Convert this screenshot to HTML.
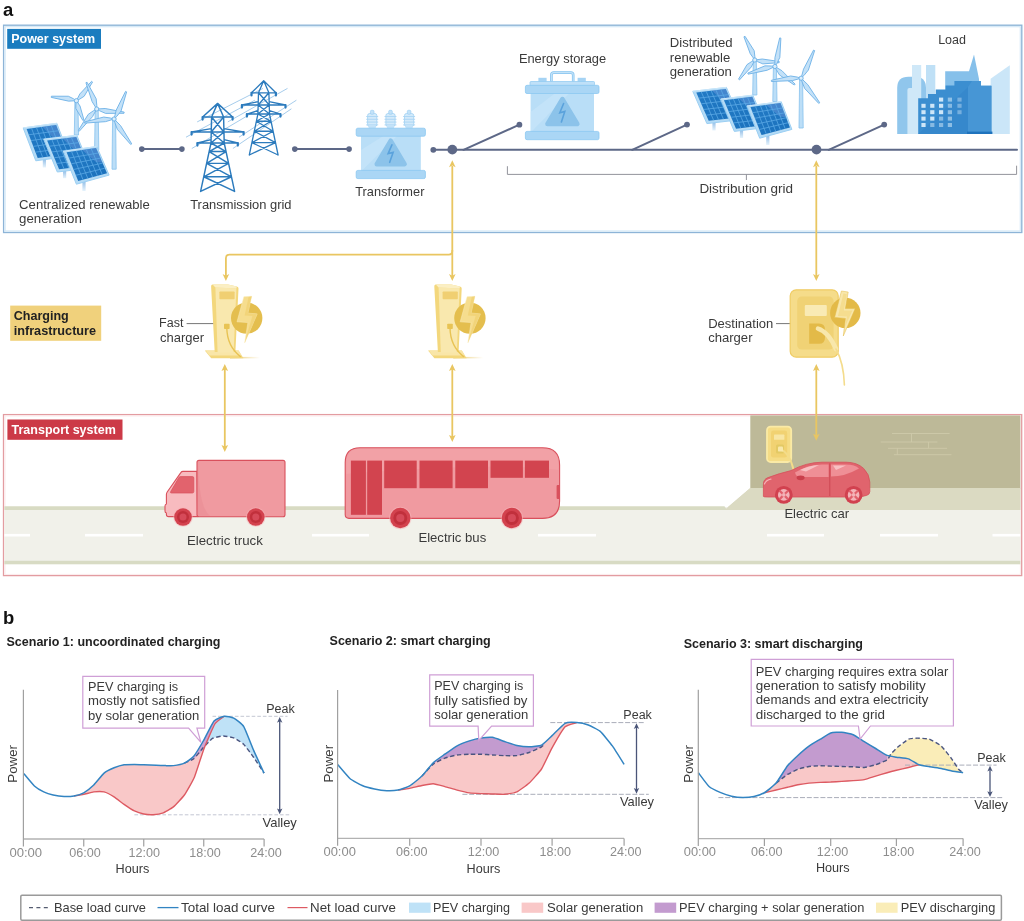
<!DOCTYPE html>
<html lang="en"><head><meta charset="utf-8"><title>Power, charging and transport systems</title>
<style>
html,body{margin:0;padding:0;background:#fff;}
body{width:1024px;height:921px;overflow:hidden;font-family:"Liberation Sans", sans-serif;}
svg{display:block;font-family:"Liberation Sans", sans-serif;will-change:transform;}
</style></head><body>
<svg width="1024" height="921" viewBox="0 0 1024 921">
<rect width="1024" height="921" fill="#ffffff"/>
<defs><linearGradient id="gpanel" x1="0" y1="0" x2="1" y2="1"><stop offset="0" stop-color="#237bc6"/><stop offset="1" stop-color="#1a70bb"/></linearGradient><linearGradient id="gpole" x1="0" y1="0" x2="0" y2="1"><stop offset="0" stop-color="#8ab8e4"/><stop offset="1" stop-color="#e6f3fc"/></linearGradient><linearGradient id="gshadow" x1="0" y1="0" x2="1" y2="0"><stop offset="0" stop-color="#e9c661"/><stop offset="1" stop-color="#e9c661" stop-opacity="0"/></linearGradient></defs>
<text x="2.90" y="15.7" font-size="18.41" font-weight="bold" fill="#111" >a</text>
<rect x="3.6" y="25.2" width="1018.2" height="207.3" fill="#fff" stroke="#8db4d7" stroke-width="1.35"/>
<rect x="5.1" y="26.7" width="1015.2" height="204.3" fill="none" stroke="#d3e8f7" stroke-width="1.2"/>
<rect x="7.2" y="28.9" width="93.8" height="19.9" fill="#1a7cbf"/>
<text x="11.17" y="42.7" font-size="12.50" font-weight="bold" fill="#fff" >Power system</text>
<rect x="3.5" y="414.6" width="1018.2" height="161" fill="#fff" stroke="#e39ca1" stroke-width="1.3"/>
<rect x="5" y="416" width="1015.4" height="158.4" fill="none" stroke="#fbeaeb" stroke-width="1"/>
<rect x="750.3" y="415.4" width="270" height="73.2" fill="#bdb998"/>
<polygon points="750.3,488 1020.3,488 1020.3,510 724.5,510" fill="#dbdac2"/>
<rect x="4.4" y="507" width="1015.9" height="57" fill="#f1f1ea"/>
<polygon points="4.4,506.3 724.5,506.3 727,509.9 4.4,509.9" fill="#d8dbc3"/>
<rect x="4.4" y="560.8" width="1015.9" height="3.5" fill="#d8dbc4"/>
<polygon points="750.3,488 1020.3,488 1020.3,510 724.5,510" fill="#dbdac2"/>
<rect x="4.4" y="533.9" width="25.6" height="2.6" fill="#ffffff"/>
<rect x="85" y="533.9" width="58" height="2.6" fill="#ffffff"/>
<rect x="312" y="533.9" width="57" height="2.6" fill="#ffffff"/>
<rect x="538" y="533.9" width="58" height="2.6" fill="#ffffff"/>
<rect x="767" y="533.9" width="57" height="2.6" fill="#ffffff"/>
<rect x="880" y="533.9" width="58" height="2.6" fill="#ffffff"/>
<rect x="992.5" y="533.9" width="27.799999999999955" height="2.6" fill="#ffffff"/>
<line x1="892" y1="433.5" x2="949.6" y2="433.5" stroke="#cecaa9" stroke-width="0.9"/>
<line x1="880.7" y1="442" x2="937.4" y2="442" stroke="#cecaa9" stroke-width="0.9"/>
<line x1="888" y1="448.3" x2="947.1" y2="448.3" stroke="#cecaa9" stroke-width="0.9"/>
<line x1="893.9" y1="454.7" x2="951.5" y2="454.7" stroke="#cecaa9" stroke-width="0.9"/>
<line x1="911.5" y1="433.5" x2="911.5" y2="442" stroke="#cecaa9" stroke-width="0.9"/>
<line x1="928.6" y1="442" x2="928.6" y2="448.3" stroke="#cecaa9" stroke-width="0.9"/>
<line x1="897.3" y1="448.3" x2="897.3" y2="454.7" stroke="#cecaa9" stroke-width="0.9"/>
<rect x="7.4" y="419.5" width="115.1" height="20.3" fill="#cc3a47"/>
<text x="11.56" y="433.7" font-size="12.50" font-weight="bold" fill="#fff" >Transport system</text>
<rect x="10.2" y="305.6" width="91" height="35.2" fill="#f0d17c"/>
<text x="13.70" y="320.4" font-size="12.55" font-weight="bold" fill="#222" >Charging</text>
<text x="13.70" y="335.4" font-size="12.68" font-weight="bold" fill="#222" >infrastructure</text>
<line x1="141.8" y1="149.1" x2="181.9" y2="149.1" stroke="#5d6887" stroke-width="2.0" stroke-linecap="round"/>
<circle cx="141.8" cy="149.1" r="2.8" fill="#5d6887"/>
<circle cx="181.9" cy="149.1" r="2.8" fill="#5d6887"/>
<line x1="294.8" y1="149.1" x2="349.1" y2="149.1" stroke="#5d6887" stroke-width="2.0" stroke-linecap="round"/>
<circle cx="294.8" cy="149.1" r="2.8" fill="#5d6887"/>
<circle cx="349.1" cy="149.1" r="2.8" fill="#5d6887"/>
<line x1="433.3" y1="149.8" x2="1017" y2="149.8" stroke="#5d6887" stroke-width="2.0" stroke-linecap="round"/>
<circle cx="433.3" cy="149.8" r="2.9" fill="#5d6887"/>
<circle cx="452.3" cy="149.6" r="4.9" fill="#5d6887"/>
<circle cx="816.5" cy="149.6" r="4.9" fill="#5d6887"/>
<line x1="463.5" y1="149.8" x2="519.4" y2="124.7" stroke="#5d6887" stroke-width="2.0" stroke-linecap="round"/>
<circle cx="519.4" cy="124.7" r="2.9" fill="#5d6887"/>
<line x1="632.2" y1="149.8" x2="687" y2="124.6" stroke="#5d6887" stroke-width="2.0" stroke-linecap="round"/>
<circle cx="687" cy="124.6" r="2.9" fill="#5d6887"/>
<line x1="828.7" y1="149.8" x2="884.2" y2="124.6" stroke="#5d6887" stroke-width="2.0" stroke-linecap="round"/>
<circle cx="884.2" cy="124.6" r="2.9" fill="#5d6887"/>
<path d="M507.4,166.2 V174.4 H1016.6 V165.7 M746.4,174.4 V180" fill="none" stroke="#8d8e96" stroke-width="0.95"/>
<path d="M452.3,166 V251 Q452.3,254.6 448.7,254.6 H229.5 Q225.9,254.6 225.9,258.2 V276" fill="none" stroke="#e9c661" stroke-width="1.8"/>
<path d="M452.3,250 V276" fill="none" stroke="#e9c661" stroke-width="1.8"/>
<path d="M449.0,167.2 L452.3,165.6 L455.6,167.2 L452.3,160.2 Z" fill="#e9c661"/>
<path d="M222.6,274.1 L225.9,275.7 L229.20000000000002,274.1 L225.9,281.1 Z" fill="#e9c661"/>
<path d="M449.0,274.1 L452.3,275.7 L455.6,274.1 L452.3,281.1 Z" fill="#e9c661"/>
<path d="M816.3,166 V276" fill="none" stroke="#e9c661" stroke-width="1.8"/>
<path d="M813.0,167.2 L816.3,165.6 L819.5999999999999,167.2 L816.3,160.2 Z" fill="#e9c661"/>
<path d="M813.0,274.1 L816.3,275.7 L819.5999999999999,274.1 L816.3,281.1 Z" fill="#e9c661"/>
<path d="M224.8,369 V447.2" fill="none" stroke="#e9c661" stroke-width="1.8"/>
<path d="M221.5,371.0 L224.8,369.40000000000003 L228.10000000000002,371.0 L224.8,364.0 Z" fill="#e9c661"/>
<path d="M221.5,445.0 L224.8,446.59999999999997 L228.10000000000002,445.0 L224.8,452.0 Z" fill="#e9c661"/>
<path d="M452.3,369 V437.2" fill="none" stroke="#e9c661" stroke-width="1.8"/>
<path d="M449.0,371.0 L452.3,369.40000000000003 L455.6,371.0 L452.3,364.0 Z" fill="#e9c661"/>
<path d="M449.0,435.0 L452.3,436.59999999999997 L455.6,435.0 L452.3,442.0 Z" fill="#e9c661"/>
<path d="M816.3,369 V436" fill="none" stroke="#e9c661" stroke-width="1.8"/>
<path d="M813.0,371.0 L816.3,369.40000000000003 L819.5999999999999,371.0 L816.3,364.0 Z" fill="#e9c661"/>
<path d="M813.0,433.8 L816.3,435.4 L819.5999999999999,433.8 L816.3,440.8 Z" fill="#e9c661"/>
<text x="19.10" y="208.8" font-size="13.15" font-weight="normal" fill="#3a3a3a" >Centralized renewable</text>
<text x="19.10" y="223.1" font-size="13.27" font-weight="normal" fill="#3a3a3a" >generation</text>
<text x="190.20" y="208.5" font-size="12.92" font-weight="normal" fill="#3a3a3a" >Transmission grid</text>
<text x="355.20" y="195.7" font-size="12.81" font-weight="normal" fill="#3a3a3a" >Transformer</text>
<text x="518.90" y="63.3" font-size="12.86" font-weight="normal" fill="#3a3a3a" >Energy storage</text>
<text x="669.80" y="47.2" font-size="13.14" font-weight="normal" fill="#3a3a3a" >Distributed</text>
<text x="669.80" y="61.5" font-size="13.11" font-weight="normal" fill="#3a3a3a" >renewable</text>
<text x="669.80" y="75.7" font-size="13.14" font-weight="normal" fill="#3a3a3a" >generation</text>
<text x="699.40" y="193.3" font-size="13.48" font-weight="normal" fill="#3a3a3a" >Distribution grid</text>
<text x="938.14" y="44.4" font-size="12.50" font-weight="normal" fill="#3a3a3a" >Load</text>
<text x="159.09" y="327.3" font-size="12.50" font-weight="normal" fill="#3a3a3a" >Fast</text>
<text x="160.00" y="342" font-size="12.98" font-weight="normal" fill="#3a3a3a" >charger</text>
<text x="708.20" y="327.5" font-size="13.03" font-weight="normal" fill="#3a3a3a" >Destination</text>
<text x="708.20" y="341.9" font-size="13.07" font-weight="normal" fill="#3a3a3a" >charger</text>
<text x="186.90" y="544.7" font-size="13.28" font-weight="normal" fill="#3a3a3a" >Electric truck</text>
<text x="418.40" y="542.4" font-size="13.13" font-weight="normal" fill="#3a3a3a" >Electric bus</text>
<text x="784.40" y="517.9" font-size="13.10" font-weight="normal" fill="#3a3a3a" >Electric car</text>
<line x1="186.6" y1="323.6" x2="214.7" y2="323.6" stroke="#777" stroke-width="1"/>
<line x1="776" y1="323.6" x2="792.5" y2="323.6" stroke="#777" stroke-width="1"/>
<polygon points="74.90,100.70 77.90,100.70 78.50,135.00 74.30,135.00" fill="#bcdef7" stroke="#86c1ee" stroke-width="0.8" stroke-linejoin="round"/>
<polygon points="76.40,100.70 73.60,98.82 68.35,96.24 51.40,96.21 51.23,97.39 68.63,101.14" fill="#c3e1f8" stroke="#6db1e6" stroke-width="0.9" stroke-linejoin="round"/>
<polygon points="76.40,100.70 79.39,99.32 84.18,96.23 92.54,82.04 91.61,81.28 79.84,93.96" fill="#c3e1f8" stroke="#6db1e6" stroke-width="0.9" stroke-linejoin="round"/>
<polygon points="76.40,100.70 75.90,103.53 75.81,108.42 82.84,120.44 83.97,120.03 80.03,106.00" fill="#c3e1f8" stroke="#6db1e6" stroke-width="0.9" stroke-linejoin="round"/>
<circle cx="76.4" cy="100.7" r="2.1" fill="#dceefb" stroke="#6db1e6" stroke-width="0.9"/>
<polygon points="95.20,109.00 98.20,109.00 98.80,150.00 94.60,150.00" fill="#bcdef7" stroke="#86c1ee" stroke-width="0.8" stroke-linejoin="round"/>
<polygon points="96.70,109.00 96.81,105.30 96.18,98.83 87.05,82.25 85.93,82.68 92.12,101.63" fill="#c3e1f8" stroke="#6db1e6" stroke-width="0.9" stroke-linejoin="round"/>
<polygon points="96.70,109.00 99.80,110.86 105.60,113.40 124.01,113.29 124.17,112.10 105.13,108.49" fill="#c3e1f8" stroke="#6db1e6" stroke-width="0.9" stroke-linejoin="round"/>
<polygon points="96.70,109.00 93.44,110.73 88.13,114.46 78.26,130.56 79.19,131.32 92.57,116.61" fill="#c3e1f8" stroke="#6db1e6" stroke-width="0.9" stroke-linejoin="round"/>
<circle cx="96.7" cy="109" r="2.1" fill="#dceefb" stroke="#6db1e6" stroke-width="0.9"/>
<polygon points="112.60,119.00 115.60,119.00 116.20,169.20 112.00,169.20" fill="#bcdef7" stroke="#86c1ee" stroke-width="0.8" stroke-linejoin="round"/>
<polygon points="114.10,119.00 116.85,116.29 121.08,110.96 126.64,91.88 125.54,91.40 116.20,110.14" fill="#c3e1f8" stroke="#6db1e6" stroke-width="0.9" stroke-linejoin="round"/>
<polygon points="114.10,119.00 114.98,122.83 117.31,129.34 130.72,144.50 131.71,143.82 120.58,125.63" fill="#c3e1f8" stroke="#6db1e6" stroke-width="0.9" stroke-linejoin="round"/>
<polygon points="114.10,119.00 110.40,118.00 103.72,117.05 84.61,121.91 84.76,123.10 105.47,121.67" fill="#c3e1f8" stroke="#6db1e6" stroke-width="0.9" stroke-linejoin="round"/>
<circle cx="114.1" cy="119" r="2.1" fill="#dceefb" stroke="#6db1e6" stroke-width="0.9"/>
<rect x="42.80" y="158.00" width="3.2" height="9.50" fill="url(#gpole)"/>
<polygon points="23.20,127.90 56.80,123.30 69.40,156.20 35.80,160.80" fill="#b4dbf6" stroke="#9bcff3" stroke-width="1.0" stroke-linejoin="round"/>
<polygon points="26.62,128.99 56.19,124.94 67.28,153.89 37.71,157.94" fill="url(#gpanel)"/>
<polygon points="42.25,126.85 56.19,124.94 62.55,141.56 56.38,140.67" fill="#8fa8e6" opacity="0.33"/>
<path d="M31.55,128.31L42.64,157.27M36.48,127.64L47.57,156.59M41.41,126.97L52.49,155.92M46.33,126.29L57.42,155.24M51.26,125.62L62.35,154.57M28.84,134.78L58.41,130.73M31.06,140.57L60.63,136.52M33.28,146.36L62.84,142.31M35.49,152.15L65.06,148.10" stroke="#5aa8e4" stroke-width="0.8" fill="none"/>
<path d="M23.20,127.90 L56.80,123.30" stroke="#d8eefb" stroke-width="0.8"/>
<rect x="63.00" y="170.00" width="3.2" height="8.20" fill="url(#gpole)"/>
<polygon points="43.70,139.30 76.80,135.30 90.40,168.00 57.30,172.00" fill="#b4dbf6" stroke="#9bcff3" stroke-width="1.0" stroke-linejoin="round"/>
<polygon points="47.13,140.43 76.25,136.91 88.22,165.69 59.09,169.21" fill="url(#gpanel)"/>
<polygon points="62.52,138.57 76.25,136.91 83.12,153.42 76.98,152.45" fill="#8fa8e6" opacity="0.33"/>
<path d="M51.98,139.84L63.95,168.62M56.83,139.26L68.80,168.03M61.69,138.67L73.66,167.45M66.54,138.08L78.51,166.86M71.40,137.50L83.37,166.27M49.52,146.19L78.65,142.67M51.91,151.94L81.04,148.42M54.31,157.70L83.43,154.18M56.70,163.45L85.83,159.93" stroke="#5aa8e4" stroke-width="0.8" fill="none"/>
<path d="M43.70,139.30 L76.80,135.30" stroke="#d8eefb" stroke-width="0.8"/>
<rect x="82.40" y="180.00" width="3.2" height="11.00" fill="url(#gpole)"/>
<polygon points="63.20,151.30 96.70,146.50 109.10,175.10 76.40,184.20" fill="#b4dbf6" stroke="#9bcff3" stroke-width="1.0" stroke-linejoin="round"/>
<polygon points="66.64,152.36 96.09,147.96 107.02,173.26 78.19,180.99" fill="url(#gpanel)"/>
<polygon points="82.20,150.03 96.09,147.96 102.36,162.48 96.28,162.19" fill="#8fa8e6" opacity="0.33"/>
<path d="M71.55,151.62L83.00,179.70M76.45,150.89L87.80,178.41M81.36,150.16L92.61,177.12M86.27,149.43L97.41,175.84M91.18,148.69L102.22,174.55M68.95,158.08L98.27,153.02M71.26,163.81L100.46,158.08M73.57,169.53L102.65,163.14M75.88,175.26L104.84,168.20" stroke="#5aa8e4" stroke-width="0.8" fill="none"/>
<path d="M63.20,151.30 L96.70,146.50" stroke="#d8eefb" stroke-width="0.8"/>
<polygon points="753.30,60.00 756.30,60.00 756.90,95.00 752.70,95.00" fill="#bcdef7" stroke="#86c1ee" stroke-width="0.8" stroke-linejoin="round"/>
<polygon points="754.80,60.00 754.87,56.61 754.19,50.74 745.04,36.32 743.94,36.80 750.22,53.63" fill="#c3e1f8" stroke="#6db1e6" stroke-width="0.9" stroke-linejoin="round"/>
<polygon points="754.80,60.00 757.61,61.68 762.83,63.87 779.14,62.70 779.24,61.50 762.25,59.01" fill="#c3e1f8" stroke="#6db1e6" stroke-width="0.9" stroke-linejoin="round"/>
<polygon points="754.80,60.00 751.79,61.45 746.96,64.66 738.55,79.16 739.49,79.91 751.34,66.88" fill="#c3e1f8" stroke="#6db1e6" stroke-width="0.9" stroke-linejoin="round"/>
<circle cx="754.8" cy="60" r="2.1" fill="#dceefb" stroke="#6db1e6" stroke-width="0.9"/>
<polygon points="773.40,66.50 776.40,66.50 777.00,101.50 772.80,101.50" fill="#bcdef7" stroke="#86c1ee" stroke-width="0.8" stroke-linejoin="round"/>
<polygon points="774.90,66.50 776.95,63.34 779.85,57.40 780.89,38.13 779.71,37.91 774.92,57.66" fill="#c3e1f8" stroke="#6db1e6" stroke-width="0.9" stroke-linejoin="round"/>
<polygon points="774.90,66.50 776.32,69.73 779.52,74.99 794.33,85.02 795.14,84.13 781.94,70.71" fill="#c3e1f8" stroke="#6db1e6" stroke-width="0.9" stroke-linejoin="round"/>
<polygon points="774.90,66.50 771.30,65.97 764.93,65.86 747.82,73.02 748.13,74.18 767.24,70.21" fill="#c3e1f8" stroke="#6db1e6" stroke-width="0.9" stroke-linejoin="round"/>
<circle cx="774.9" cy="66.5" r="2.1" fill="#dceefb" stroke="#6db1e6" stroke-width="0.9"/>
<polygon points="799.60,78.20 802.60,78.20 803.20,128.00 799.00,128.00" fill="#bcdef7" stroke="#86c1ee" stroke-width="0.8" stroke-linejoin="round"/>
<polygon points="801.10,78.20 803.96,75.46 808.39,70.06 814.64,50.59 813.55,50.09 803.52,69.16" fill="#c3e1f8" stroke="#6db1e6" stroke-width="0.9" stroke-linejoin="round"/>
<polygon points="801.10,78.20 802.12,82.03 804.71,88.53 818.74,103.41 819.70,102.70 807.85,84.69" fill="#c3e1f8" stroke="#6db1e6" stroke-width="0.9" stroke-linejoin="round"/>
<polygon points="801.10,78.20 797.40,77.10 790.70,75.97 771.33,80.30 771.45,81.50 792.34,80.63" fill="#c3e1f8" stroke="#6db1e6" stroke-width="0.9" stroke-linejoin="round"/>
<circle cx="801.1" cy="78.2" r="2.1" fill="#dceefb" stroke="#6db1e6" stroke-width="0.9"/>
<rect x="712.40" y="121.00" width="3.2" height="9.50" fill="url(#gpole)"/>
<polygon points="692.80,91.30 726.40,87.40 740.40,119.70 706.90,123.60" fill="#b4dbf6" stroke="#9bcff3" stroke-width="1.0" stroke-linejoin="round"/>
<polygon points="696.29,92.42 725.85,88.99 738.18,117.41 708.69,120.85" fill="url(#gpanel)"/>
<polygon points="711.91,90.61 725.85,88.99 732.93,105.30 726.69,104.33" fill="#8fa8e6" opacity="0.33"/>
<path d="M701.22,91.85L713.61,120.27M706.14,91.28L718.52,119.70M711.07,90.71L723.43,119.13M716.00,90.13L728.35,118.56M720.93,89.56L733.26,117.99M698.77,98.11L728.32,94.67M701.25,103.79L730.78,100.36M703.73,109.48L733.25,106.04M706.21,115.16L735.71,111.73" stroke="#5aa8e4" stroke-width="0.8" fill="none"/>
<path d="M692.80,91.30 L726.40,87.40" stroke="#d8eefb" stroke-width="0.8"/>
<rect x="739.90" y="129.00" width="3.2" height="9.00" fill="url(#gpole)"/>
<polygon points="720.60,99.10 752.80,95.20 766.50,127.50 734.30,131.40" fill="#b4dbf6" stroke="#9bcff3" stroke-width="1.0" stroke-linejoin="round"/>
<polygon points="723.95,100.22 752.29,96.79 764.35,125.21 736.01,128.65" fill="url(#gpanel)"/>
<polygon points="738.93,98.41 752.29,96.79 759.21,113.10 753.21,112.13" fill="#8fa8e6" opacity="0.33"/>
<path d="M728.68,99.65L740.73,128.07M733.40,99.08L745.45,127.50M738.12,98.51L750.18,126.93M742.84,97.93L754.90,126.36M747.57,97.36L759.62,125.79M726.36,105.91L754.70,102.47M728.78,111.59L757.11,108.16M731.19,117.28L759.52,113.84M733.60,122.96L761.93,119.53" stroke="#5aa8e4" stroke-width="0.8" fill="none"/>
<path d="M720.60,99.10 L752.80,95.20" stroke="#d8eefb" stroke-width="0.8"/>
<rect x="766.20" y="135.00" width="3.2" height="10.00" fill="url(#gpole)"/>
<polygon points="747.00,106.00 781.20,101.70 791.90,129.40 759.70,138.20" fill="#b4dbf6" stroke="#9bcff3" stroke-width="1.0" stroke-linejoin="round"/>
<polygon points="750.47,107.07 780.49,103.10 789.97,127.62 761.50,135.07" fill="url(#gpanel)"/>
<polygon points="766.33,104.97 780.49,103.10 785.93,117.17 779.91,116.86" fill="#8fa8e6" opacity="0.33"/>
<path d="M755.47,106.41L766.24,133.82M760.48,105.75L770.99,132.58M765.48,105.09L775.73,131.34M770.48,104.42L780.48,130.10M775.48,103.76L785.22,128.86M752.68,112.67L782.38,108.01M754.88,118.27L784.28,112.91M757.09,123.87L786.17,117.81M759.29,129.47L788.07,122.72" stroke="#5aa8e4" stroke-width="0.8" fill="none"/>
<path d="M747.00,106.00 L781.20,101.70" stroke="#d8eefb" stroke-width="0.8"/>
<path d="M227.8,121.9 L287.5,88.4 M239.0,137.2 L296.4,100.2 M232.9,148.5 L291.4,108.8 M197.2,121.9 L263.0,88.4 M186.0,137.2 L254.9,100.2 M191.8,148.5 L259.3,108.8 " stroke="#7fb6e2" stroke-width="0.7" fill="none"/>
<path d="M251.5,92.8 L263.7,80.7 L275.9,92.8 M258.5,92.8 L263.7,80.7 L268.9,92.8 M258.5,92.8 L257.9,114 L249.29999999999998,155 M268.9,92.8 L269.5,114 L278.09999999999997,155 M251.5,92.8 L275.9,92.8 M241.89999999999998,105 L285.5,105 M241.89999999999998,105 L258.2509433962264,101.6 M285.5,105 L269.1490566037736,101.6 M246.89999999999998,114 L280.5,114 M246.89999999999998,114 L257.9962264150943,110.6 M280.5,114 L269.40377358490565,110.6 M258.50,92.80 L269.25,105.00 M268.90,92.80 L258.15,105.00 M258.15,105.00 L269.50,114.00 M269.25,105.00 L257.90,114.00 M257.90,114.00 L271.02,121.25 M269.50,114.00 L256.38,121.25 M256.38,121.25 L271.02,121.25 M256.38,121.25 L273.12,131.24 M271.02,121.25 L254.28,131.24 M254.28,131.24 L273.12,131.24 M254.28,131.24 L275.50,142.62 M273.12,131.24 L251.90,142.62 M251.90,142.62 L275.50,142.62 M251.90,142.62 L278.10,155.00 M275.50,142.62 L249.30,155.00 " fill="none" stroke="#2c7bbd" stroke-width="1.3" stroke-linejoin="round" stroke-linecap="round"/>
<path d="M251.5,92.8 v2.6" stroke="#2c7bbd" stroke-width="2.2" stroke-linecap="round"/>
<path d="M275.9,92.8 v2.6" stroke="#2c7bbd" stroke-width="2.2" stroke-linecap="round"/>
<path d="M241.89999999999998,105 v2.6" stroke="#2c7bbd" stroke-width="2.2" stroke-linecap="round"/>
<path d="M285.5,105 v2.6" stroke="#2c7bbd" stroke-width="2.2" stroke-linecap="round"/>
<path d="M246.89999999999998,114 v2.6" stroke="#2c7bbd" stroke-width="2.2" stroke-linecap="round"/>
<path d="M280.5,114 v2.6" stroke="#2c7bbd" stroke-width="2.2" stroke-linecap="round"/>
<path d="M202.6,117 L217.6,103.4 L232.6,117 M211.6,117 L217.6,103.4 L223.6,117 M211.6,117 L211.0,143 L200.6,191.4 M223.6,117 L224.2,143 L234.6,191.4 M202.6,117 L232.6,117 M191.6,132 L243.6,132 M191.6,132 L211.3323076923077,128.6 M243.6,132 L223.8676923076923,128.6 M197.4,143 L237.79999999999998,143 M197.4,143 L211.07846153846154,139.6 M237.79999999999998,143 L224.12153846153845,139.6 M211.60,117.00 L223.95,132.00 M223.60,117.00 L211.25,132.00 M211.25,132.00 L224.20,143.00 M223.95,132.00 L211.00,143.00 M211.00,143.00 L226.04,151.56 M224.20,143.00 L209.16,151.56 M209.16,151.56 L226.04,151.56 M209.16,151.56 L228.57,163.35 M226.04,151.56 L206.63,163.35 M206.63,163.35 L228.57,163.35 M206.63,163.35 L231.46,176.78 M228.57,163.35 L203.74,176.78 M203.74,176.78 L231.46,176.78 M203.74,176.78 L234.60,191.40 M231.46,176.78 L200.60,191.40 " fill="none" stroke="#2c7bbd" stroke-width="1.45" stroke-linejoin="round" stroke-linecap="round"/>
<path d="M202.6,117 v2.6" stroke="#2c7bbd" stroke-width="2.2" stroke-linecap="round"/>
<path d="M232.6,117 v2.6" stroke="#2c7bbd" stroke-width="2.2" stroke-linecap="round"/>
<path d="M191.6,132 v2.6" stroke="#2c7bbd" stroke-width="2.2" stroke-linecap="round"/>
<path d="M243.6,132 v2.6" stroke="#2c7bbd" stroke-width="2.2" stroke-linecap="round"/>
<path d="M197.4,143 v2.6" stroke="#2c7bbd" stroke-width="2.2" stroke-linecap="round"/>
<path d="M237.79999999999998,143 v2.6" stroke="#2c7bbd" stroke-width="2.2" stroke-linecap="round"/>
<rect x="367.59999999999997" y="113.5" width="9.2" height="13" rx="2" fill="#d3eafa" stroke="#9fd0f3" stroke-width="0.8"/>
<rect x="370.4" y="110.3" width="3.6" height="4" rx="1.2" fill="#c3e2f8" stroke="#9fd0f3" stroke-width="0.7"/>
<path d="M366.59999999999997,116.5 h11.2 M366.59999999999997,119.3 h11.2 M366.59999999999997,122.1 h11.2 M366.59999999999997,124.9 h11.2" stroke="#a9d5f4" stroke-width="0.9" stroke-linecap="round"/>
<rect x="368.59999999999997" y="125.5" width="7.2" height="3" fill="#c3e2f8"/>
<rect x="385.9" y="113.5" width="9.2" height="13" rx="2" fill="#d3eafa" stroke="#9fd0f3" stroke-width="0.8"/>
<rect x="388.7" y="110.3" width="3.6" height="4" rx="1.2" fill="#c3e2f8" stroke="#9fd0f3" stroke-width="0.7"/>
<path d="M384.9,116.5 h11.2 M384.9,119.3 h11.2 M384.9,122.1 h11.2 M384.9,124.9 h11.2" stroke="#a9d5f4" stroke-width="0.9" stroke-linecap="round"/>
<rect x="386.9" y="125.5" width="7.2" height="3" fill="#c3e2f8"/>
<rect x="404.5" y="113.5" width="9.2" height="13" rx="2" fill="#d3eafa" stroke="#9fd0f3" stroke-width="0.8"/>
<rect x="407.3" y="110.3" width="3.6" height="4" rx="1.2" fill="#c3e2f8" stroke="#9fd0f3" stroke-width="0.7"/>
<path d="M403.5,116.5 h11.2 M403.5,119.3 h11.2 M403.5,122.1 h11.2 M403.5,124.9 h11.2" stroke="#a9d5f4" stroke-width="0.9" stroke-linecap="round"/>
<rect x="405.5" y="125.5" width="7.2" height="3" fill="#c3e2f8"/>
<rect x="361" y="135" width="59.8" height="36.5" fill="#b9def7"/>
<polygon points="361,171.5 361,150 385,135 398,135" fill="#c9e6fa" opacity="0.6"/>
<rect x="356.2" y="128.2" width="69.2" height="8" rx="1.6" fill="#aad6f5" stroke="#8cc8f1" stroke-width="0.8"/>
<rect x="356.2" y="170.4" width="69.2" height="8.2" rx="1.6" fill="#aad6f5" stroke="#8cc8f1" stroke-width="0.8"/>
<path d="M390.7,140.6 L404.7,164.2 L376.7,164.2 Z" fill="#8cc3ea" stroke="#8cc3ea" stroke-width="4.4" stroke-linejoin="round"/>
<path d="M391.9,144.84799999999998 L388.09999999999997,153.57999999999998 L393.09999999999997,152.39999999999998 L389.7,162.31199999999998" fill="none" stroke="#5aa2dc" stroke-width="1.6" stroke-linejoin="miter" stroke-linecap="round"/>
<path d="M551.4,81.5 V75 Q551.4,72.6 553.8,72.6 H570.8 Q573.2,72.6 573.2,75 V81.5" fill="none" stroke="#84c3f0" stroke-width="2.6"/>
<path d="M551.4,81.5 V75 Q551.4,72.6 553.8,72.6 H570.8 Q573.2,72.6 573.2,75 V81.5" fill="none" stroke="#c4e3f8" stroke-width="1.1"/>
<rect x="538.4" y="77.8" width="8.2" height="4" fill="#a5d3f4"/>
<rect x="577.6" y="77.8" width="8.2" height="4" fill="#a5d3f4"/>
<rect x="530" y="81.5" width="64.5" height="4.2" rx="1" fill="#bfe0f8" stroke="#8cc8f1" stroke-width="0.7"/>
<rect x="530.6" y="92.5" width="63.4" height="40" fill="#b9def7"/>
<polygon points="530.6,132.5 530.6,112 556,92.5 570,92.5" fill="#c9e6fa" opacity="0.6"/>
<rect x="525.4" y="85.3" width="73.6" height="8.2" rx="1.6" fill="#aad6f5" stroke="#8cc8f1" stroke-width="0.8"/>
<rect x="525.4" y="131.4" width="73.6" height="8.3" rx="1.6" fill="#aad6f5" stroke="#8cc8f1" stroke-width="0.8"/>
<path d="M562.4,99 L577.4,124 L547.4,124 Z" fill="#8cc3ea" stroke="#8cc3ea" stroke-width="4.4" stroke-linejoin="round"/>
<path d="M563.6,103.5 L559.8,112.75 L564.8,111.5 L561.4,122.0" fill="none" stroke="#5aa2dc" stroke-width="1.6" stroke-linejoin="miter" stroke-linecap="round"/>
<path d="M897.2,134 V88 Q897.2,76.8 908.4,76.8 H915 Q926,76.8 926,88 V134 Z" fill="#90c6ec"/>
<path d="M912,134 V65 H921.2 V134 Z" fill="#cfe8f8"/>
<path d="M907.4,134 V90 Q907.4,88 909.4,88 H912 V134 Z" fill="#cfe8f8"/>
<rect x="926" y="65" width="9.3" height="40" fill="#bfe0f6"/>
<polygon points="945.2,134 945.2,71.2 969,71.2 974,54.6 979,79 979,134" fill="#86c0ea"/>
<polygon points="990.6,78.8 1009.8,65.2 1009.8,134 990.6,134" fill="#cbe6f8"/>
<polygon points="918.2,134 918.2,98.2 928,98.2 928,94 935.8,94 935.8,89.6 945.6,89.6 945.6,85.4 954.4,85.4 954.4,81 980.8,81 980.8,85.8 991.4,85.8 991.4,134" fill="#3b8ed0"/>
<polygon points="918.2,134 968,87 968,134" fill="#3486cb" opacity="0.7"/>
<polygon points="968,87 968,134 991.4,134 991.4,85.8 980.8,85.8 980.8,81 972,81" fill="#4796d5"/>
<rect x="967" y="131.6" width="25.4" height="2.4" fill="#1f73bd"/>
<rect x="921.4" y="103.8" width="4.2" height="4" fill="#d6ebfa" opacity="0.95"/>
<rect x="921.4" y="110.2" width="4.2" height="4" fill="#d6ebfa" opacity="0.95"/>
<rect x="921.4" y="116.6" width="4.2" height="4" fill="#d6ebfa" opacity="0.95"/>
<rect x="921.4" y="123" width="4.2" height="4" fill="#d6ebfa" opacity="0.95"/>
<rect x="930.2" y="103.8" width="4.2" height="4" fill="#d6ebfa" opacity="0.95"/>
<rect x="930.2" y="110.2" width="4.2" height="4" fill="#d6ebfa" opacity="0.95"/>
<rect x="930.2" y="116.6" width="4.2" height="4" fill="#d6ebfa" opacity="0.95"/>
<rect x="930.2" y="123" width="4.2" height="4" fill="#d6ebfa" opacity="0.5"/>
<rect x="939" y="97.6" width="4.2" height="4" fill="#d6ebfa" opacity="0.95"/>
<rect x="939" y="103.8" width="4.2" height="4" fill="#d6ebfa" opacity="0.95"/>
<rect x="939" y="110.2" width="4.2" height="4" fill="#d6ebfa" opacity="0.95"/>
<rect x="939" y="116.6" width="4.2" height="4" fill="#d6ebfa" opacity="0.5"/>
<rect x="939" y="123" width="4.2" height="4" fill="#d6ebfa" opacity="0.5"/>
<rect x="947.8" y="97.6" width="4.2" height="4" fill="#d6ebfa" opacity="0.55"/>
<rect x="947.8" y="103.8" width="4.2" height="4" fill="#d6ebfa" opacity="0.5"/>
<rect x="947.8" y="110.2" width="4.2" height="4" fill="#d6ebfa" opacity="0.55"/>
<rect x="947.8" y="116.6" width="4.2" height="4" fill="#d6ebfa" opacity="0.55"/>
<rect x="947.8" y="123" width="4.2" height="4" fill="#d6ebfa" opacity="0.55"/>
<rect x="957.4" y="97.6" width="4.2" height="4" fill="#d6ebfa" opacity="0.4"/>
<rect x="957.4" y="103.8" width="4.2" height="4" fill="#d6ebfa" opacity="0.4"/>
<rect x="957.4" y="110.2" width="4.2" height="4" fill="#d6ebfa" opacity="0.4"/>
<g transform="translate(0,0)"><rect x="230" y="356.9" width="30" height="1.5" fill="url(#gshadow)"/><polygon points="204.8,350.6 238.6,350.6 243.4,358.2 211.2,358.2" fill="#f3d77c"/><polygon points="205.6,350.6 238.6,350.6 241.4,355.4 209.4,355.4" fill="#f9e6a8"/><path d="M212.6,284.6 Q211,284.6 211.1,286.4 L214.7,352 H235.4 L238.5,288.6 Q238.6,286.8 236.8,286.4 L228,284.6 Z" fill="#f3d77c"/><path d="M215.4,287.6 L236.4,288.6 L233.6,352.6 H217.6 Z" fill="#f9e8ae"/><path d="M212.6,284.6 L228,284.6 L236.8,286.4 L236.4,288.6 L215.4,287.6 Z" fill="#fbefc4"/><rect x="219.4" y="291.4" width="15.2" height="7.8" rx="0.8" fill="#f0cf72"/><circle cx="246.7" cy="318.1" r="15.7" fill="#e4be4e"/><polygon points="243.9,296.7 251.7,296.3 247.9,313.1 257.2,313.9 244.7,342.8 247.9,322.6 237,321.8" fill="#f6dd8e" stroke="#f9ebb8" stroke-width="0.5" stroke-linejoin="round"/><polygon points="248.6,297 251.7,296.3 247.9,313.1 257.2,313.9 244.7,342.8 252.4,316 244.6,315.4" fill="#efcf6e" opacity="0.65"/><path d="M226.8,328 C227,340 232,350 240.4,356.6" fill="none" stroke="#e8c354" stroke-width="1.4" stroke-linecap="round"/><rect x="224" y="323.8" width="5.6" height="5.2" rx="0.8" fill="#e8c354"/></g>
<g transform="translate(223.2,0)"><rect x="230" y="356.9" width="30" height="1.5" fill="url(#gshadow)"/><polygon points="204.8,350.6 238.6,350.6 243.4,358.2 211.2,358.2" fill="#f3d77c"/><polygon points="205.6,350.6 238.6,350.6 241.4,355.4 209.4,355.4" fill="#f9e6a8"/><path d="M212.6,284.6 Q211,284.6 211.1,286.4 L214.7,352 H235.4 L238.5,288.6 Q238.6,286.8 236.8,286.4 L228,284.6 Z" fill="#f3d77c"/><path d="M215.4,287.6 L236.4,288.6 L233.6,352.6 H217.6 Z" fill="#f9e8ae"/><path d="M212.6,284.6 L228,284.6 L236.8,286.4 L236.4,288.6 L215.4,287.6 Z" fill="#fbefc4"/><rect x="219.4" y="291.4" width="15.2" height="7.8" rx="0.8" fill="#f0cf72"/><circle cx="246.7" cy="318.1" r="15.7" fill="#e4be4e"/><polygon points="243.9,296.7 251.7,296.3 247.9,313.1 257.2,313.9 244.7,342.8 247.9,322.6 237,321.8" fill="#f6dd8e" stroke="#f9ebb8" stroke-width="0.5" stroke-linejoin="round"/><polygon points="248.6,297 251.7,296.3 247.9,313.1 257.2,313.9 244.7,342.8 252.4,316 244.6,315.4" fill="#efcf6e" opacity="0.65"/><path d="M226.8,328 C227,340 232,350 240.4,356.6" fill="none" stroke="#e8c354" stroke-width="1.4" stroke-linecap="round"/><rect x="224" y="323.8" width="5.6" height="5.2" rx="0.8" fill="#e8c354"/></g>
<rect x="790.2" y="289.8" width="48" height="67.4" rx="6" fill="#f5dc8a" stroke="#efcc64" stroke-width="1.2"/>
<rect x="797.2" y="296.6" width="36.4" height="53" rx="4.5" fill="#f0d275"/>
<rect x="804.8" y="305" width="22" height="11" rx="1" fill="#f9eab4"/>
<path d="M809.2,323.4 H819 Q825,323.4 825,329.4 V337.8 Q825,343.8 819,343.8 H809.2 Z" fill="#e3ba48"/>
<circle cx="845.3" cy="312.9" r="15.2" fill="#e3ba48"/>
<polygon points="841.4,291 848.2,292 845.4,308.6 855.2,308.6 843.3,336 845.4,318.4 834.6,317.4" fill="#f8e7ab" stroke="#e3ba48" stroke-width="0.5" stroke-linejoin="round"/>
<polygon points="843.4,293.6 846.8,294.2 843.8,310.4 852.4,310.4 845,327 847,316.6 838,316" fill="#f4dc8c" opacity="0.9"/>
<path d="M818,328.6 C826,331 832,340 836,349" fill="none" stroke="#f8e7ab" stroke-width="4.6" stroke-linecap="round"/>
<path d="M836,349 C841,358 844,372 844.4,385" fill="none" stroke="#f4dc8c" stroke-width="1.6" stroke-linecap="round"/>
<rect x="767" y="426.6" width="24.2" height="35.4" rx="3.6" fill="#f5dc86" stroke="#faeaa6" stroke-width="1.8"/>
<rect x="771" y="430.6" width="16.2" height="27" rx="2.4" fill="#f1d272"/>
<rect x="774" y="434.6" width="10.4" height="5.2" rx="0.6" fill="#f8e6a4"/>
<rect x="776" y="444.6" width="8" height="9" rx="1.6" fill="#e3c964"/>
<path d="M781,449.6 C787,452 791,459 793.6,470" fill="none" stroke="#f3dc8a" stroke-width="2" stroke-linecap="round"/>
<rect x="778" y="446.4" width="5" height="5.2" rx="1.2" fill="#f8e8ab"/>
<path d="M197,471.4 H183 Q181.6,471.4 180.8,472.6 L167.2,492 Q166.4,493.2 166.4,494.6 V504 Q165,504.4 165,506 V511 Q165,512.6 166.4,513 V514.4 Q166.4,516.6 168.6,516.6 H197.6 Z" fill="#f8bbbf" stroke="#d9505c" stroke-width="1.1" stroke-linejoin="round"/>
<path d="M180.2,476.6 H192.4 Q193.8,476.6 193.8,478 V491.6 Q193.8,493 192.4,493 H171.4 Q169.8,493 170.7,491.6 L178.8,477.6 Q179.4,476.6 180.2,476.6 Z" fill="#e2636d" stroke="#d9505c" stroke-width="0.7"/>
<rect x="197" y="460.4" width="88" height="56.4" rx="2" fill="#f09aa0" stroke="#d9505c" stroke-width="1.1"/>
<path d="M198,461.4 V515.8 H210 Q199,508 198,461.4 Z" fill="#ea8c93" opacity="0.55"/>
<circle cx="183" cy="517" r="9.8" fill="#f6b4b8" opacity="0.55"/>
<circle cx="183" cy="517" r="8.8" fill="#d3424e"/>
<circle cx="183" cy="517" r="5.98" fill="#c1303c"/>
<circle cx="183" cy="517" r="3.52" fill="#d64a59"/>
<circle cx="255.8" cy="517" r="9.8" fill="#f6b4b8" opacity="0.55"/>
<circle cx="255.8" cy="517" r="8.8" fill="#d3424e"/>
<circle cx="255.8" cy="517" r="5.98" fill="#c1303c"/>
<circle cx="255.8" cy="517" r="3.52" fill="#d64a59"/>
<path d="M360,447.8 H542.5 Q559.6,447.8 559.6,465 V501 Q559.6,518.4 542.5,518.4 H349 Q345.2,518.4 345.2,514.6 V462.6 Q345.2,447.8 360,447.8 Z" fill="#f09aa0" stroke="#d9505c" stroke-width="1.1"/>
<path d="M346.2,463 Q346.2,449 360,448.8 H542 Q558,448.8 558.6,463 V470 Q500,462 346.2,474 Z" fill="#f3a7ac" opacity="0.5"/>
<rect x="350.9" y="460.6" width="15.0" height="54.2" fill="#d2444f"/>
<rect x="367.2" y="460.6" width="14.8" height="54.2" fill="#d2444f"/>
<rect x="384.2" y="460.6" width="32.5" height="27.6" fill="#d2444f"/>
<rect x="419.5" y="460.6" width="33.1" height="27.6" fill="#d2444f"/>
<rect x="455.3" y="460.6" width="32.7" height="27.6" fill="#d2444f"/>
<rect x="490.5" y="460.6" width="32.4" height="17.2" fill="#d2444f"/>
<rect x="524.9" y="460.6" width="24.1" height="17.2" fill="#d2444f"/>
<rect x="556.6" y="485" width="3.4" height="14" rx="1" fill="#d9505c"/>
<circle cx="400.3" cy="518" r="11.2" fill="#f6b4b8" opacity="0.55"/>
<circle cx="400.3" cy="518" r="10.2" fill="#d3424e"/>
<circle cx="400.3" cy="518" r="6.94" fill="#c1303c"/>
<circle cx="400.3" cy="518" r="4.08" fill="#d64a59"/>
<circle cx="511.9" cy="518" r="11.2" fill="#f6b4b8" opacity="0.55"/>
<circle cx="511.9" cy="518" r="10.2" fill="#d3424e"/>
<circle cx="511.9" cy="518" r="6.94" fill="#c1303c"/>
<circle cx="511.9" cy="518" r="4.08" fill="#d64a59"/>
<path d="M763.4,496.4 V484 Q763.4,479.4 768,477.6 Q779,473.4 791,470.6 Q806,462.4 822,462.2 H846 Q857,462.2 863.6,468.4 Q869.6,474.4 869.8,482 V491.6 Q869.8,494.6 866.6,495.4 L860,497 H768 Q763.4,497 763.4,496.4 Z" fill="#e0646d" stroke="#d6505b" stroke-width="0.8" stroke-linejoin="round"/>
<path d="M795,472.4 Q808,464.6 822,464.4 H828.6 V477 H801 Q796,477 795,472.4 Z" fill="#ef8f96"/>
<path d="M831,464.4 H846 Q855,464.4 859,468.4 Q845,476.4 831,476.6 Z" fill="#ef8f96"/>
<path d="M800,470 Q809,465.4 819,465 L806,471.6 Z" fill="#f8c5c8" opacity="0.9"/>
<path d="M833,465.6 H846 L836,470 Z" fill="#f8c5c8" opacity="0.9"/>
<path d="M829.8,463.2 V496" stroke="#c9404c" stroke-width="0.8" fill="none"/>
<ellipse cx="800.6" cy="477.8" rx="4" ry="2.4" fill="#c93f4b"/>
<path d="M764.4,484 Q766,480 771,479" stroke="#f5b5b9" stroke-width="1.2" fill="none" stroke-linecap="round"/>
<circle cx="783.8" cy="494.9" r="8.9" fill="#d1414f"/>
<circle cx="783.8" cy="494.9" r="5.87" fill="#f4b3b8"/>
<path d="M779.35,490.45 L788.25,499.35 M788.25,490.45 L779.35,499.35" stroke="#e0606b" stroke-width="2.2"/>
<circle cx="783.8" cy="494.9" r="1.78" fill="#f4b3b8"/>
<circle cx="853.6" cy="494.9" r="8.9" fill="#d1414f"/>
<circle cx="853.6" cy="494.9" r="5.87" fill="#f4b3b8"/>
<path d="M849.15,490.45 L858.05,499.35 M858.05,490.45 L849.15,499.35" stroke="#e0606b" stroke-width="2.2"/>
<circle cx="853.6" cy="494.9" r="1.78" fill="#f4b3b8"/>
<text x="3.00" y="624.3" font-size="18.44" font-weight="bold" fill="#111" >b</text>
<text x="6.53" y="646.3" font-size="12.50" font-weight="bold" fill="#222" >Scenario 1: uncoordinated charging</text>
<text x="329.56" y="644.9" font-size="12.50" font-weight="bold" fill="#222" >Scenario 2: smart charging</text>
<text x="683.73" y="648.2" font-size="12.50" font-weight="bold" fill="#222" >Scenario 3: smart discharging</text>
<path d="M74.06,795.94 C74.81,795.70 82.24,793.65 83.75,792.81 C85.26,791.97 92.19,786.51 93.75,785.00 C95.31,783.49 102.50,774.45 104.06,773.12 C105.62,771.80 112.52,768.46 114.06,767.81 C115.60,767.16 122.50,764.95 124.06,764.69 C125.62,764.42 132.86,764.38 134.38,764.38 C135.89,764.38 142.07,764.62 143.75,764.69 C145.43,764.76 154.57,765.24 156.25,765.31 C157.93,765.38 164.30,765.60 165.62,765.62 C166.95,765.65 172.00,765.82 173.44,765.62 C174.88,765.43 182.81,763.85 184.38,763.12 C185.94,762.40 192.31,757.93 193.75,756.25 C195.19,754.57 201.56,743.97 203.12,741.25 C204.69,738.53 212.43,722.86 214.06,720.94 C215.70,719.01 223.58,716.61 224.38,716.25 L224.38,716.25 C223.65,716.83 216.56,721.27 215.00,723.75 C213.44,726.23 205.65,744.33 204.06,748.44 C202.48,752.55 195.89,773.61 194.38,777.19 C192.86,780.77 185.99,792.72 184.38,795.00 C182.76,797.28 175.12,805.48 173.44,806.88 C171.75,808.27 164.06,812.52 162.50,813.12 C160.94,813.73 154.57,814.62 153.12,814.69 C151.68,814.76 145.19,814.35 143.75,814.06 C142.31,813.77 135.89,811.68 134.38,810.94 C132.86,810.19 125.62,805.46 124.06,804.38 C122.50,803.29 115.60,797.84 114.06,796.88 C112.52,795.91 105.62,792.26 104.06,791.88 C102.50,791.49 95.31,791.68 93.75,791.88 C92.19,792.07 85.26,794.06 83.75,794.38 C82.24,794.69 74.81,795.82 74.06,795.94 Z" fill="#f9c8c8"/>
<path d="M184.38,763.12 C185.10,762.60 192.31,757.93 193.75,756.25 C195.19,754.57 201.56,743.97 203.12,741.25 C204.69,738.53 212.43,722.86 214.06,720.94 C215.70,719.01 222.86,716.47 224.38,716.25 C225.89,716.03 232.26,717.33 233.75,718.12 C235.24,718.92 242.21,724.06 243.75,726.56 C245.29,729.06 252.19,747.04 253.75,750.62 C255.31,754.21 263.27,771.39 264.06,773.12 L264.06,773.12 C263.27,771.92 255.31,759.71 253.75,757.50 C252.19,755.29 245.24,745.87 243.75,744.38 C242.26,742.88 235.94,738.77 234.38,738.12 C232.81,737.48 225.12,735.91 223.44,735.94 C221.75,735.96 214.06,737.52 212.50,738.44 C210.94,739.35 204.57,746.25 203.12,747.81 C201.68,749.38 195.19,757.57 193.75,758.75 C192.31,759.93 185.10,762.79 184.38,763.12 Z" fill="#bfe2f7"/>
<path d="M184.38,763.12 C185.10,762.60 192.31,757.93 193.75,756.25 C195.19,754.57 201.56,743.97 203.12,741.25 C204.69,738.53 212.43,722.86 214.06,720.94 C215.70,719.01 223.58,716.61 224.38,716.25 L224.38,716.25 C223.65,716.83 216.56,721.27 215.00,723.75 C213.44,726.23 205.70,745.75 204.06,748.44 C202.43,751.13 195.26,757.62 193.75,758.75 C192.24,759.88 185.10,762.79 184.38,763.12 Z" fill="#cda3d3"/>
<path d="M212.5,716.3 H287.5 M134.4,814.8 H290.6" stroke="#c3c7d3" stroke-width="1" stroke-dasharray="3.6 2" fill="none"/>
<path d="M279.7,719.8 V811.3" stroke="#4a5578" stroke-width="1.3" fill="none"/>
<path d="M277.0,722.6999999999999 L279.7,721.3 L282.4,722.6999999999999 L279.7,716.9 Z" fill="#4a5578"/>
<path d="M277.0,808.4 L279.7,809.8 L282.4,808.4 L279.7,814.1999999999999 Z" fill="#4a5578"/>
<text x="266.19" y="712.5" font-size="12.50" font-weight="normal" fill="#3a3a3a" >Peak</text>
<text x="262.50" y="826.6" font-size="12.98" font-weight="normal" fill="#3a3a3a" >Valley</text>
<path d="M184.38,763.12 C185.10,762.79 192.31,759.93 193.75,758.75 C195.19,757.57 201.68,749.38 203.12,747.81 C204.57,746.25 210.94,739.35 212.50,738.44 C214.06,737.52 221.75,735.96 223.44,735.94 C225.12,735.91 232.81,737.48 234.38,738.12 C235.94,738.77 242.26,742.88 243.75,744.38 C245.24,745.87 252.19,755.29 253.75,757.50 C255.31,759.71 263.27,771.92 264.06,773.12" fill="none" stroke="#4a5580" stroke-width="1.4" stroke-dasharray="4.4 2.6"/>
<path d="M74.06,795.94 C74.81,795.82 82.24,794.69 83.75,794.38 C85.26,794.06 92.19,792.07 93.75,791.88 C95.31,791.68 102.50,791.49 104.06,791.88 C105.62,792.26 112.52,795.91 114.06,796.88 C115.60,797.84 122.50,803.29 124.06,804.38 C125.62,805.46 132.86,810.19 134.38,810.94 C135.89,811.68 142.31,813.77 143.75,814.06 C145.19,814.35 151.68,814.76 153.12,814.69 C154.57,814.62 160.94,813.73 162.50,813.12 C164.06,812.52 171.75,808.27 173.44,806.88 C175.12,805.48 182.76,797.28 184.38,795.00 C185.99,792.72 192.86,780.77 194.38,777.19 C195.89,773.61 202.48,752.55 204.06,748.44 C205.65,744.33 213.44,726.23 215.00,723.75 C216.56,721.27 223.65,716.83 224.38,716.25" fill="none" stroke="#dd5a62" stroke-width="1.4"/>
<path d="M23.44,773.12 C24.28,774.11 32.81,784.50 34.38,785.94 C35.94,787.38 42.31,791.18 43.75,791.88 C45.19,792.57 51.56,794.64 53.12,795.00 C54.69,795.36 62.45,796.49 64.06,796.56 C65.67,796.63 72.55,796.23 74.06,795.94 C75.58,795.65 82.24,793.65 83.75,792.81 C85.26,791.97 92.19,786.51 93.75,785.00 C95.31,783.49 102.50,774.45 104.06,773.12 C105.62,771.80 112.52,768.46 114.06,767.81 C115.60,767.16 122.50,764.95 124.06,764.69 C125.62,764.42 132.86,764.38 134.38,764.38 C135.89,764.38 142.07,764.62 143.75,764.69 C145.43,764.76 154.57,765.24 156.25,765.31 C157.93,765.38 164.30,765.60 165.62,765.62 C166.95,765.65 172.00,765.82 173.44,765.62 C174.88,765.43 182.81,763.85 184.38,763.12 C185.94,762.40 192.31,757.93 193.75,756.25 C195.19,754.57 201.56,743.97 203.12,741.25 C204.69,738.53 212.43,722.86 214.06,720.94 C215.70,719.01 222.86,716.47 224.38,716.25 C225.89,716.03 232.26,717.33 233.75,718.12 C235.24,718.92 242.21,724.06 243.75,726.56 C245.29,729.06 252.19,747.04 253.75,750.62 C255.31,754.21 263.27,771.39 264.06,773.12" fill="none" stroke="#3284c2" stroke-width="1.5"/>
<path d="M23.4,839.0 H264.1" fill="none" stroke="#b2b2b2" stroke-width="1.4"/>
<path d="M23.4,689.7 V846.4 M83.75,839.0 V846.4 M143.75,839.0 V846.4 M203.75,839.0 V846.4 M264.1,839.0 V846.4" fill="none" stroke="#a0a0a0" stroke-width="1.2"/>
<text x="9.40" y="857.0" font-size="13.09" font-weight="normal" fill="#8d8d8d" >00:00</text>
<text x="69.22" y="857.0" font-size="12.60" font-weight="normal" fill="#8d8d8d" >06:00</text>
<text x="128.42" y="857.0" font-size="12.60" font-weight="normal" fill="#8d8d8d" >12:00</text>
<text x="189.22" y="857.0" font-size="12.60" font-weight="normal" fill="#8d8d8d" >18:00</text>
<text x="250.32" y="857.0" font-size="12.60" font-weight="normal" fill="#8d8d8d" >24:00</text>
<text x="115.60" y="872.5" font-size="12.66" font-weight="normal" fill="#3a3a3a" >Hours</text>
<text transform="translate(17.3,763.8) rotate(-90)" font-size="13.3" fill="#3a3a3a" text-anchor="middle">Power</text>
<path d="M82.8,676.3 H204.7 V728.1 H196.9 L200.9,742.4 L188.6,728.1 H82.8 Z" fill="#ffffff" stroke="#cf9fd6" stroke-width="1.2" stroke-linejoin="miter"/>
<text x="88.10" y="690.6" font-size="12.65" font-weight="normal" fill="#3a3a3a" >PEV charging is</text>
<text x="88.10" y="705.3" font-size="13.16" font-weight="normal" fill="#3a3a3a" >mostly not satisfied</text>
<text x="88.10" y="720" font-size="13.09" font-weight="normal" fill="#3a3a3a" >by solar generation</text>
<path d="M398.06,790.10 C398.95,789.77 407.82,786.96 409.66,785.88 C411.50,784.80 420.16,777.82 421.97,776.03 C423.78,774.25 431.46,764.35 433.22,762.67 C434.98,761.00 442.98,755.53 444.82,754.23 C446.66,752.94 455.24,746.82 457.13,745.79 C459.02,744.77 467.60,741.47 469.44,740.87 C471.28,740.28 479.28,738.33 481.04,738.06 C482.80,737.79 490.48,737.09 492.29,737.36 C494.10,737.63 502.71,740.95 504.60,741.58 C506.49,742.20 515.01,745.04 516.91,745.44 C518.80,745.85 527.32,746.88 529.21,746.85 C531.11,746.82 539.76,745.96 541.52,745.09 C543.28,744.23 550.26,737.27 552.07,735.60 C553.88,733.92 563.18,724.29 565.08,723.29 C566.97,722.29 575.79,722.64 576.68,722.59 L576.68,722.59 C575.79,722.91 566.97,724.86 565.08,726.81 C563.18,728.75 553.88,744.66 552.07,747.90 C550.26,751.15 543.28,766.30 541.52,769.00 C539.76,771.71 531.11,781.31 529.21,783.07 C527.32,784.82 518.80,790.99 516.91,791.86 C515.01,792.72 506.49,794.16 504.60,794.32 C502.71,794.48 494.10,794.02 492.29,793.97 C490.48,793.91 482.80,793.70 481.04,793.61 C479.28,793.53 471.28,793.18 469.44,792.91 C467.60,792.64 459.02,790.59 457.13,790.10 C455.24,789.61 446.66,787.07 444.82,786.58 C442.98,786.10 434.98,783.85 433.22,783.77 C431.46,783.69 423.78,785.18 421.97,785.53 C420.16,785.88 411.50,787.99 409.66,788.34 C407.82,788.69 398.95,789.96 398.06,790.10 Z" fill="#f9c8c8"/>
<path d="M421.97,776.03 C422.83,775.01 431.46,764.35 433.22,762.67 C434.98,761.00 442.98,755.53 444.82,754.23 C446.66,752.94 455.24,746.82 457.13,745.79 C459.02,744.77 467.60,741.47 469.44,740.87 C471.28,740.28 479.28,738.33 481.04,738.06 C482.80,737.79 490.48,737.09 492.29,737.36 C494.10,737.63 502.71,740.95 504.60,741.58 C506.49,742.20 515.01,745.04 516.91,745.44 C518.80,745.85 527.32,746.88 529.21,746.85 C531.11,746.82 540.30,745.33 541.52,745.09 C542.74,744.85 544.76,743.79 545.04,743.68 L545.04,743.68 C544.76,743.93 542.74,746.17 541.52,746.85 C540.30,747.53 531.11,751.80 529.21,752.48 C527.32,753.15 518.80,755.40 516.91,755.64 C515.01,755.88 506.49,755.69 504.60,755.64 C502.71,755.59 494.10,755.04 492.29,754.94 C490.48,754.83 482.80,754.29 481.04,754.23 C479.28,754.18 471.28,754.18 469.44,754.23 C467.60,754.29 459.02,754.64 457.13,754.94 C455.24,755.23 446.66,757.40 444.82,758.10 C442.98,758.80 434.98,762.70 433.22,764.08 C431.46,765.46 422.83,775.11 421.97,776.03 Z" fill="#c39bcf"/>
<path d="M550.3,722.6 H645.2 M462.4,794.3 H648.8" stroke="#a9adb9" stroke-width="1" stroke-dasharray="5 1.8" fill="none"/>
<path d="M636.5,726.1 V790.8" stroke="#4a5578" stroke-width="1.3" fill="none"/>
<path d="M633.8,729.0 L636.5,727.6 L639.2,729.0 L636.5,723.2 Z" fill="#4a5578"/>
<path d="M633.8,787.9 L636.5,789.3 L639.2,787.9 L636.5,793.6999999999999 Z" fill="#4a5578"/>
<text x="623.37" y="719.1" font-size="12.50" font-weight="normal" fill="#3a3a3a" >Peak</text>
<text x="619.90" y="805.9" font-size="12.87" font-weight="normal" fill="#3a3a3a" >Valley</text>
<path d="M421.97,776.03 C422.83,775.11 431.46,765.46 433.22,764.08 C434.98,762.70 442.98,758.80 444.82,758.10 C446.66,757.40 455.24,755.23 457.13,754.94 C459.02,754.64 467.60,754.29 469.44,754.23 C471.28,754.18 479.28,754.18 481.04,754.23 C482.80,754.29 490.48,754.83 492.29,754.94 C494.10,755.04 502.71,755.59 504.60,755.64 C506.49,755.69 515.01,755.88 516.91,755.64 C518.80,755.40 527.32,753.15 529.21,752.48 C531.11,751.80 540.30,747.53 541.52,746.85 C542.74,746.17 544.76,743.93 545.04,743.68" fill="none" stroke="#4a5580" stroke-width="1.4" stroke-dasharray="4.4 2.6"/>
<path d="M398.06,790.10 C398.95,789.96 407.82,788.69 409.66,788.34 C411.50,787.99 420.16,785.88 421.97,785.53 C423.78,785.18 431.46,783.69 433.22,783.77 C434.98,783.85 442.98,786.10 444.82,786.58 C446.66,787.07 455.24,789.61 457.13,790.10 C459.02,790.59 467.60,792.64 469.44,792.91 C471.28,793.18 479.28,793.53 481.04,793.61 C482.80,793.70 490.48,793.91 492.29,793.97 C494.10,794.02 502.71,794.48 504.60,794.32 C506.49,794.16 515.01,792.72 516.91,791.86 C518.80,790.99 527.32,784.82 529.21,783.07 C531.11,781.31 539.76,771.71 541.52,769.00 C543.28,766.30 550.26,751.15 552.07,747.90 C553.88,744.66 563.18,728.75 565.08,726.81 C566.97,724.86 575.79,722.91 576.68,722.59" fill="none" stroke="#dd5a62" stroke-width="1.4"/>
<path d="M337.58,764.43 C338.53,765.51 347.99,776.87 349.89,778.50 C351.78,780.12 360.30,784.72 362.19,785.53 C364.09,786.34 372.61,788.64 374.50,789.04 C376.39,789.45 385.00,790.72 386.81,790.80 C388.62,790.88 396.30,790.48 398.06,790.10 C399.82,789.72 407.82,786.96 409.66,785.88 C411.50,784.80 420.16,777.82 421.97,776.03 C423.78,774.25 431.46,764.35 433.22,762.67 C434.98,761.00 442.98,755.53 444.82,754.23 C446.66,752.94 455.24,746.82 457.13,745.79 C459.02,744.77 467.60,741.47 469.44,740.87 C471.28,740.28 479.28,738.33 481.04,738.06 C482.80,737.79 490.48,737.09 492.29,737.36 C494.10,737.63 502.71,740.95 504.60,741.58 C506.49,742.20 515.01,745.04 516.91,745.44 C518.80,745.85 527.32,746.88 529.21,746.85 C531.11,746.82 539.76,745.96 541.52,745.09 C543.28,744.23 550.26,737.27 552.07,735.60 C553.88,733.92 563.18,724.29 565.08,723.29 C566.97,722.29 574.90,722.45 576.68,722.59 C578.47,722.72 586.47,724.37 588.28,725.05 C590.10,725.73 598.37,729.76 600.24,731.38 C602.11,733.00 610.71,743.60 612.55,746.15 C614.38,748.69 623.26,763.02 624.15,764.43" fill="none" stroke="#3284c2" stroke-width="1.5"/>
<path d="M337.6,838.4 H624.1" fill="none" stroke="#b2b2b2" stroke-width="1.4"/>
<path d="M337.6,689.9 V845.8 M409.7,838.4 V845.8 M481,838.4 V845.8 M552.1,838.4 V845.8 M624.1,838.4 V845.8" fill="none" stroke="#a0a0a0" stroke-width="1.2"/>
<text x="323.50" y="856.4" font-size="12.93" font-weight="normal" fill="#8d8d8d" >00:00</text>
<text x="395.97" y="856.4" font-size="12.60" font-weight="normal" fill="#8d8d8d" >06:00</text>
<text x="467.72" y="856.4" font-size="12.60" font-weight="normal" fill="#8d8d8d" >12:00</text>
<text x="539.42" y="856.4" font-size="12.60" font-weight="normal" fill="#8d8d8d" >18:00</text>
<text x="610.12" y="856.4" font-size="12.60" font-weight="normal" fill="#8d8d8d" >24:00</text>
<text x="466.60" y="872.7" font-size="12.66" font-weight="normal" fill="#3a3a3a" >Hours</text>
<text transform="translate(332.8,763.7) rotate(-90)" font-size="13.3" fill="#3a3a3a" text-anchor="middle">Power</text>
<path d="M429.7,674.8 H533.4 V726.1 H491.6 L478.8,740.4 L478.1,726.1 H429.7 Z" fill="#ffffff" stroke="#cf9fd6" stroke-width="1.2" stroke-linejoin="miter"/>
<text x="434.28" y="689.9" font-size="12.50" font-weight="normal" fill="#3a3a3a" >PEV charging is</text>
<text x="434.30" y="704.7" font-size="13.20" font-weight="normal" fill="#3a3a3a" >fully satisfied by</text>
<text x="434.30" y="719.1" font-size="13.10" font-weight="normal" fill="#3a3a3a" >solar generation</text>
<path d="M764.37,792.76 C765.27,792.01 774.34,785.15 776.12,783.08 C777.90,781.01 785.85,767.92 787.53,765.80 C789.20,763.67 796.25,756.94 797.89,755.43 C799.54,753.91 807.23,747.34 808.96,746.09 C810.68,744.84 818.69,740.19 820.36,739.18 C822.04,738.17 829.08,733.49 830.73,732.96 C832.38,732.43 840.07,732.13 841.79,732.27 C843.52,732.40 851.47,733.97 853.20,734.69 C854.93,735.41 862.53,740.54 864.26,741.60 C865.99,742.66 873.91,747.45 875.67,748.51 C877.42,749.58 885.48,754.76 887.08,755.43 C888.67,756.09 894.76,756.89 896.41,757.16 C898.06,757.42 906.78,758.30 908.51,758.88 C910.24,759.47 918.08,764.31 918.88,764.76 L918.88,764.76 C918.08,764.97 910.24,767.10 908.51,767.53 C906.78,767.95 898.06,769.89 896.41,770.29 C894.76,770.69 888.67,772.26 887.08,772.71 C885.48,773.16 877.42,775.63 875.67,776.17 C873.91,776.70 865.99,779.28 864.26,779.62 C862.53,779.97 854.93,780.53 853.20,780.66 C851.47,780.79 843.52,781.25 841.79,781.35 C840.07,781.46 832.38,781.96 830.73,782.04 C829.08,782.12 822.04,782.31 820.36,782.39 C818.69,782.47 810.68,782.89 808.96,783.08 C807.23,783.27 799.54,784.49 797.89,784.81 C796.25,785.13 789.20,786.83 787.53,787.23 C785.85,787.63 777.90,789.57 776.12,789.99 C774.34,790.42 765.27,792.55 764.37,792.76 Z" fill="#f9c8c8"/>
<path d="M776.12,783.08 C777.00,781.75 785.85,767.92 787.53,765.80 C789.20,763.67 796.25,756.94 797.89,755.43 C799.54,753.91 807.23,747.34 808.96,746.09 C810.68,744.84 818.69,740.19 820.36,739.18 C822.04,738.17 829.08,733.49 830.73,732.96 C832.38,732.43 840.07,732.13 841.79,732.27 C843.52,732.40 851.47,733.97 853.20,734.69 C854.93,735.41 862.53,740.54 864.26,741.60 C865.99,742.66 873.91,747.45 875.67,748.51 C877.42,749.58 886.20,754.90 887.08,755.43 L887.08,755.43 C887.08,755.77 887.95,759.20 887.08,759.92 C886.20,760.64 877.42,764.17 875.67,764.76 C873.91,765.34 865.99,767.37 864.26,767.53 C862.53,767.68 854.93,766.91 853.20,766.83 C851.47,766.75 843.52,766.54 841.79,766.49 C840.07,766.43 832.38,766.20 830.73,766.14 C829.08,766.09 822.04,765.77 820.36,765.80 C818.69,765.82 810.68,766.22 808.96,766.49 C807.23,766.75 799.54,768.64 797.89,769.25 C796.25,769.86 789.20,773.37 787.53,774.44 C785.85,775.50 777.00,782.42 776.12,783.08 Z" fill="#c39bcf"/>
<path d="M891.22,753.70 C891.76,753.17 896.81,747.90 898.14,746.79 C899.47,745.67 907.04,739.85 908.51,739.18 C909.97,738.52 915.55,738.14 917.15,738.14 C918.74,738.14 927.39,738.57 929.25,739.18 C931.11,739.79 939.62,744.58 941.34,746.09 C943.07,747.61 950.39,757.10 951.71,758.88 C953.04,760.67 957.75,768.19 958.63,769.25 C959.51,770.32 962.78,772.44 963.12,772.71 L963.12,772.71 C962.24,772.58 953.39,771.30 951.71,770.98 C950.04,770.66 943.02,768.88 941.34,768.56 C939.67,768.24 931.67,767.13 929.94,766.83 C928.21,766.54 920.53,765.37 918.88,764.76 C917.23,764.15 910.24,759.47 908.51,758.88 C906.78,758.30 898.06,757.42 896.41,757.16 C894.76,756.89 887.79,755.56 887.08,755.43 Z" fill="#faedb8"/>
<path d="M905,765.1 H996.6 M718.4,797.6 H1003.5" stroke="#a9adb9" stroke-width="1" stroke-dasharray="5 1.8" fill="none"/>
<path d="M990,768.6 V794.1" stroke="#4a5578" stroke-width="1.3" fill="none"/>
<path d="M987.3,771.5 L990,770.1 L992.7,771.5 L990,765.7 Z" fill="#4a5578"/>
<path d="M987.3,791.2 L990,792.6 L992.7,791.2 L990,797.0 Z" fill="#4a5578"/>
<text x="977.17" y="761.6" font-size="12.50" font-weight="normal" fill="#3a3a3a" >Peak</text>
<text x="974.20" y="809" font-size="12.75" font-weight="normal" fill="#3a3a3a" >Valley</text>
<path d="M776.12,783.08 C777.00,782.42 785.85,775.50 787.53,774.44 C789.20,773.37 796.25,769.86 797.89,769.25 C799.54,768.64 807.23,766.75 808.96,766.49 C810.68,766.22 818.69,765.82 820.36,765.80 C822.04,765.77 829.08,766.09 830.73,766.14 C832.38,766.20 840.07,766.43 841.79,766.49 C843.52,766.54 851.47,766.75 853.20,766.83 C854.93,766.91 862.53,767.68 864.26,767.53 C865.99,767.37 873.91,765.34 875.67,764.76 C877.42,764.17 885.88,760.77 887.08,759.92 C888.27,759.07 890.37,754.71 891.22,753.70 C892.07,752.69 896.81,747.90 898.14,746.79 C899.47,745.67 907.04,739.85 908.51,739.18 C909.97,738.52 915.55,738.14 917.15,738.14 C918.74,738.14 927.39,738.57 929.25,739.18 C931.11,739.79 939.62,744.58 941.34,746.09 C943.07,747.61 950.39,757.10 951.71,758.88 C953.04,760.67 957.75,768.19 958.63,769.25 C959.51,770.32 962.78,772.44 963.12,772.71" fill="none" stroke="#4a5580" stroke-width="1.4" stroke-dasharray="4.4 2.6"/>
<path d="M764.37,792.76 C765.27,792.55 774.34,790.42 776.12,789.99 C777.90,789.57 785.85,787.63 787.53,787.23 C789.20,786.83 796.25,785.13 797.89,784.81 C799.54,784.49 807.23,783.27 808.96,783.08 C810.68,782.89 818.69,782.47 820.36,782.39 C822.04,782.31 829.08,782.12 830.73,782.04 C832.38,781.96 840.07,781.46 841.79,781.35 C843.52,781.25 851.47,780.79 853.20,780.66 C854.93,780.53 862.53,779.97 864.26,779.62 C865.99,779.28 873.91,776.70 875.67,776.17 C877.42,775.63 885.48,773.16 887.08,772.71 C888.67,772.26 894.76,770.69 896.41,770.29 C898.06,769.89 906.78,767.95 908.51,767.53 C910.24,767.10 918.08,764.97 918.88,764.76" fill="none" stroke="#dd5a62" stroke-width="1.4"/>
<path d="M698.34,772.71 C699.17,773.77 707.38,785.02 709.06,786.54 C710.73,788.05 718.39,791.67 720.12,792.41 C721.85,793.16 729.80,795.82 731.53,796.22 C733.26,796.61 740.86,797.57 742.59,797.60 C744.32,797.62 752.32,796.93 754.00,796.56 C755.67,796.19 762.66,793.80 764.37,792.76 C766.07,791.72 774.34,785.15 776.12,783.08 C777.90,781.01 785.85,767.92 787.53,765.80 C789.20,763.67 796.25,756.94 797.89,755.43 C799.54,753.91 807.23,747.34 808.96,746.09 C810.68,744.84 818.69,740.19 820.36,739.18 C822.04,738.17 829.08,733.49 830.73,732.96 C832.38,732.43 840.07,732.13 841.79,732.27 C843.52,732.40 851.47,733.97 853.20,734.69 C854.93,735.41 862.53,740.54 864.26,741.60 C865.99,742.66 873.91,747.45 875.67,748.51 C877.42,749.58 885.48,754.76 887.08,755.43 C888.67,756.09 894.76,756.89 896.41,757.16 C898.06,757.42 906.78,758.30 908.51,758.88 C910.24,759.47 917.23,764.15 918.88,764.76 C920.53,765.37 928.21,766.54 929.94,766.83 C931.67,767.13 939.67,768.24 941.34,768.56 C943.02,768.88 950.04,770.66 951.71,770.98 C953.39,771.30 962.24,772.58 963.12,772.71" fill="none" stroke="#3284c2" stroke-width="1.5"/>
<path d="M698.3,838.6 H963.1" fill="none" stroke="#b2b2b2" stroke-width="1.4"/>
<path d="M698.3,689.75 V846.0 M764.4,838.6 V846.0 M830.7,838.6 V846.0 M896.4,838.6 V846.0 M963.1,838.6 V846.0" fill="none" stroke="#a0a0a0" stroke-width="1.2"/>
<text x="683.80" y="856.2" font-size="12.85" font-weight="normal" fill="#8d8d8d" >00:00</text>
<text x="750.97" y="856.2" font-size="12.60" font-weight="normal" fill="#8d8d8d" >06:00</text>
<text x="816.82" y="856.2" font-size="12.60" font-weight="normal" fill="#8d8d8d" >12:00</text>
<text x="882.87" y="856.2" font-size="12.60" font-weight="normal" fill="#8d8d8d" >18:00</text>
<text x="949.22" y="856.2" font-size="12.60" font-weight="normal" fill="#8d8d8d" >24:00</text>
<text x="815.90" y="872" font-size="12.66" font-weight="normal" fill="#3a3a3a" >Hours</text>
<text transform="translate(693.2,763.8) rotate(-90)" font-size="13.3" fill="#3a3a3a" text-anchor="middle">Power</text>
<path d="M751.2,659.3 H953.4 V726 H870.5 L860.1,739 L858.4,726 H751.2 Z" fill="#ffffff" stroke="#cf9fd6" stroke-width="1.2" stroke-linejoin="miter"/>
<text x="755.70" y="675.9" font-size="12.88" font-weight="normal" fill="#3a3a3a" >PEV charging requires extra solar</text>
<text x="755.70" y="689.6" font-size="13.48" font-weight="normal" fill="#3a3a3a" >generation to satisfy mobility</text>
<text x="755.70" y="704.2" font-size="13.29" font-weight="normal" fill="#3a3a3a" >demands and extra electricity</text>
<text x="755.70" y="718.5" font-size="13.45" font-weight="normal" fill="#3a3a3a" >discharged to the grid</text>
<rect x="20.8" y="895.2" width="980.6" height="25" rx="1.2" fill="#fff" stroke="#9a9a9a" stroke-width="1.5"/>
<path d="M29,907.6 H49" stroke="#555c70" stroke-width="1.2" stroke-dasharray="4 3.4" fill="none"/>
<text x="54.00" y="911.8" font-size="12.83" font-weight="normal" fill="#3a3a3a" >Base load curve</text>
<path d="M157.5,907.6 H178.5" stroke="#3284c2" stroke-width="1.3" fill="none"/>
<text x="181.00" y="911.8" font-size="13.42" font-weight="normal" fill="#3a3a3a" >Total load curve</text>
<path d="M287.5,907.6 H307.5" stroke="#dd5a62" stroke-width="1.2" fill="none"/>
<text x="310.00" y="911.8" font-size="13.33" font-weight="normal" fill="#3a3a3a" >Net load curve</text>
<rect x="409" y="902.6" width="21.6" height="10.2" fill="#bfe2f7"/>
<text x="433.00" y="911.8" font-size="12.59" font-weight="normal" fill="#3a3a3a" >PEV charging</text>
<rect x="521.6" y="902.6" width="21.6" height="10.2" fill="#f9c8c8"/>
<text x="547.00" y="911.8" font-size="13.12" font-weight="normal" fill="#3a3a3a" >Solar generation</text>
<rect x="654.6" y="902.6" width="21.6" height="10.2" fill="#c39bcf"/>
<text x="679.00" y="911.8" font-size="12.85" font-weight="normal" fill="#3a3a3a" >PEV charging + solar generation</text>
<rect x="876" y="902.6" width="21.6" height="10.2" fill="#faedb8"/>
<text x="900.70" y="911.8" font-size="12.81" font-weight="normal" fill="#3a3a3a" >PEV discharging</text>
</svg>
</body></html>
